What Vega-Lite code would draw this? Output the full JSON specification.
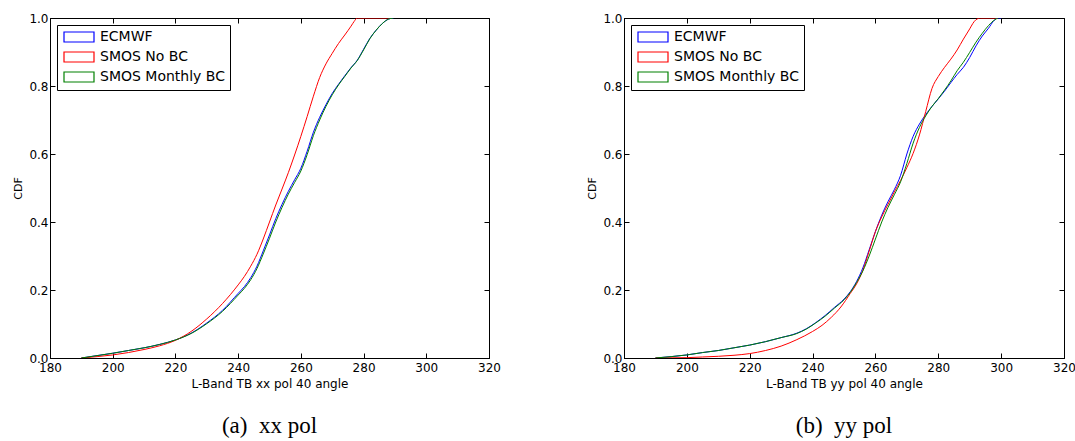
{
  "$schema": "https://vega.github.io/schema/vega-lite/v6.json",
  "padding": {"left": 12, "top": 11, "right": 0, "bottom": 0},
  "background": "white",
  "config": {
    "font": "DejaVu Sans",
    "view": {"stroke": "black", "strokeWidth": 1},
    "axis": {
      "domainColor": "black", "tickColor": "black", "labelColor": "black", "titleColor": "black",
      "labelFont": "DejaVu Sans", "titleFont": "DejaVu Sans",
      "labelFontSize": 12, "titleFontSize": 11, "titleFontWeight": "normal",
      "grid": false, "tickSize": -5, "tickWidth": 1, "domainWidth": 1
    },
    "axisX": {"titleFontSize": 12},
    "legend": {
      "labelFont": "DejaVu Sans", "labelFontSize": 14, "labelColor": "black"
    }
  },
  "datasets": {
    "xx": [
      {"src": "ECMWF", "T": 190, "cdf": 0},
      {"src": "ECMWF", "T": 195, "cdf": 0.007},
      {"src": "ECMWF", "T": 200, "cdf": 0.014},
      {"src": "ECMWF", "T": 205, "cdf": 0.022},
      {"src": "ECMWF", "T": 210, "cdf": 0.03},
      {"src": "ECMWF", "T": 215, "cdf": 0.04},
      {"src": "ECMWF", "T": 220, "cdf": 0.053},
      {"src": "ECMWF", "T": 225, "cdf": 0.073},
      {"src": "ECMWF", "T": 230, "cdf": 0.103},
      {"src": "ECMWF", "T": 235, "cdf": 0.14},
      {"src": "ECMWF", "T": 240, "cdf": 0.19},
      {"src": "ECMWF", "T": 242, "cdf": 0.21},
      {"src": "ECMWF", "T": 244, "cdf": 0.236},
      {"src": "ECMWF", "T": 246, "cdf": 0.27},
      {"src": "ECMWF", "T": 248, "cdf": 0.315},
      {"src": "ECMWF", "T": 250, "cdf": 0.362},
      {"src": "ECMWF", "T": 252, "cdf": 0.41},
      {"src": "ECMWF", "T": 254, "cdf": 0.452},
      {"src": "ECMWF", "T": 256, "cdf": 0.49},
      {"src": "ECMWF", "T": 258, "cdf": 0.524},
      {"src": "ECMWF", "T": 260, "cdf": 0.558},
      {"src": "ECMWF", "T": 262, "cdf": 0.608},
      {"src": "ECMWF", "T": 264, "cdf": 0.664},
      {"src": "ECMWF", "T": 266, "cdf": 0.708},
      {"src": "ECMWF", "T": 268, "cdf": 0.745},
      {"src": "ECMWF", "T": 270, "cdf": 0.778},
      {"src": "ECMWF", "T": 272, "cdf": 0.805},
      {"src": "ECMWF", "T": 274, "cdf": 0.83},
      {"src": "ECMWF", "T": 276, "cdf": 0.854},
      {"src": "ECMWF", "T": 278, "cdf": 0.876},
      {"src": "ECMWF", "T": 280, "cdf": 0.908},
      {"src": "ECMWF", "T": 282, "cdf": 0.94},
      {"src": "ECMWF", "T": 284, "cdf": 0.964},
      {"src": "ECMWF", "T": 286, "cdf": 0.984},
      {"src": "ECMWF", "T": 288, "cdf": 0.997},
      {"src": "ECMWF", "T": 289.5, "cdf": 1.0},
      {"src": "SMOS No BC", "T": 190, "cdf": 0},
      {"src": "SMOS No BC", "T": 195, "cdf": 0.004},
      {"src": "SMOS No BC", "T": 200, "cdf": 0.009},
      {"src": "SMOS No BC", "T": 205, "cdf": 0.016},
      {"src": "SMOS No BC", "T": 210, "cdf": 0.025},
      {"src": "SMOS No BC", "T": 215, "cdf": 0.036},
      {"src": "SMOS No BC", "T": 220, "cdf": 0.052},
      {"src": "SMOS No BC", "T": 225, "cdf": 0.078},
      {"src": "SMOS No BC", "T": 230, "cdf": 0.115},
      {"src": "SMOS No BC", "T": 235, "cdf": 0.16},
      {"src": "SMOS No BC", "T": 240, "cdf": 0.215},
      {"src": "SMOS No BC", "T": 242, "cdf": 0.24},
      {"src": "SMOS No BC", "T": 244, "cdf": 0.27},
      {"src": "SMOS No BC", "T": 246, "cdf": 0.305},
      {"src": "SMOS No BC", "T": 248, "cdf": 0.35},
      {"src": "SMOS No BC", "T": 250, "cdf": 0.4},
      {"src": "SMOS No BC", "T": 252, "cdf": 0.45},
      {"src": "SMOS No BC", "T": 254, "cdf": 0.497},
      {"src": "SMOS No BC", "T": 256, "cdf": 0.545},
      {"src": "SMOS No BC", "T": 258, "cdf": 0.597},
      {"src": "SMOS No BC", "T": 260, "cdf": 0.652},
      {"src": "SMOS No BC", "T": 262, "cdf": 0.71},
      {"src": "SMOS No BC", "T": 264, "cdf": 0.77},
      {"src": "SMOS No BC", "T": 266, "cdf": 0.825},
      {"src": "SMOS No BC", "T": 268, "cdf": 0.865},
      {"src": "SMOS No BC", "T": 270, "cdf": 0.896},
      {"src": "SMOS No BC", "T": 272, "cdf": 0.925},
      {"src": "SMOS No BC", "T": 274, "cdf": 0.95},
      {"src": "SMOS No BC", "T": 276, "cdf": 0.976},
      {"src": "SMOS No BC", "T": 277, "cdf": 0.99},
      {"src": "SMOS No BC", "T": 278, "cdf": 1.0},
      {"src": "SMOS No BC", "T": 289, "cdf": 1.0},
      {"src": "SMOS Monthly BC", "T": 190, "cdf": 0},
      {"src": "SMOS Monthly BC", "T": 195, "cdf": 0.007},
      {"src": "SMOS Monthly BC", "T": 200, "cdf": 0.014},
      {"src": "SMOS Monthly BC", "T": 205, "cdf": 0.022},
      {"src": "SMOS Monthly BC", "T": 210, "cdf": 0.03},
      {"src": "SMOS Monthly BC", "T": 215, "cdf": 0.04},
      {"src": "SMOS Monthly BC", "T": 220, "cdf": 0.053},
      {"src": "SMOS Monthly BC", "T": 225, "cdf": 0.072},
      {"src": "SMOS Monthly BC", "T": 230, "cdf": 0.101},
      {"src": "SMOS Monthly BC", "T": 235, "cdf": 0.137},
      {"src": "SMOS Monthly BC", "T": 240, "cdf": 0.185},
      {"src": "SMOS Monthly BC", "T": 242, "cdf": 0.205},
      {"src": "SMOS Monthly BC", "T": 244, "cdf": 0.23},
      {"src": "SMOS Monthly BC", "T": 246, "cdf": 0.263},
      {"src": "SMOS Monthly BC", "T": 248, "cdf": 0.306},
      {"src": "SMOS Monthly BC", "T": 250, "cdf": 0.352},
      {"src": "SMOS Monthly BC", "T": 252, "cdf": 0.4},
      {"src": "SMOS Monthly BC", "T": 254, "cdf": 0.443},
      {"src": "SMOS Monthly BC", "T": 256, "cdf": 0.482},
      {"src": "SMOS Monthly BC", "T": 258, "cdf": 0.516},
      {"src": "SMOS Monthly BC", "T": 260, "cdf": 0.55},
      {"src": "SMOS Monthly BC", "T": 262, "cdf": 0.598},
      {"src": "SMOS Monthly BC", "T": 264, "cdf": 0.654},
      {"src": "SMOS Monthly BC", "T": 266, "cdf": 0.7},
      {"src": "SMOS Monthly BC", "T": 268, "cdf": 0.74},
      {"src": "SMOS Monthly BC", "T": 270, "cdf": 0.774},
      {"src": "SMOS Monthly BC", "T": 272, "cdf": 0.803},
      {"src": "SMOS Monthly BC", "T": 274, "cdf": 0.828},
      {"src": "SMOS Monthly BC", "T": 276, "cdf": 0.853},
      {"src": "SMOS Monthly BC", "T": 278, "cdf": 0.875},
      {"src": "SMOS Monthly BC", "T": 280, "cdf": 0.906},
      {"src": "SMOS Monthly BC", "T": 282, "cdf": 0.939},
      {"src": "SMOS Monthly BC", "T": 284, "cdf": 0.964},
      {"src": "SMOS Monthly BC", "T": 286, "cdf": 0.984},
      {"src": "SMOS Monthly BC", "T": 288, "cdf": 0.997},
      {"src": "SMOS Monthly BC", "T": 289.5, "cdf": 1.0}
    ],
    "yy": [
      {"src": "ECMWF", "T": 190, "cdf": 0},
      {"src": "ECMWF", "T": 195, "cdf": 0.004},
      {"src": "ECMWF", "T": 200, "cdf": 0.009},
      {"src": "ECMWF", "T": 205, "cdf": 0.016},
      {"src": "ECMWF", "T": 210, "cdf": 0.022},
      {"src": "ECMWF", "T": 215, "cdf": 0.03},
      {"src": "ECMWF", "T": 220, "cdf": 0.038},
      {"src": "ECMWF", "T": 225, "cdf": 0.048},
      {"src": "ECMWF", "T": 230, "cdf": 0.06},
      {"src": "ECMWF", "T": 235, "cdf": 0.073},
      {"src": "ECMWF", "T": 238, "cdf": 0.086},
      {"src": "ECMWF", "T": 241, "cdf": 0.104},
      {"src": "ECMWF", "T": 244, "cdf": 0.125},
      {"src": "ECMWF", "T": 247, "cdf": 0.149},
      {"src": "ECMWF", "T": 250, "cdf": 0.173},
      {"src": "ECMWF", "T": 252, "cdf": 0.195},
      {"src": "ECMWF", "T": 254, "cdf": 0.225},
      {"src": "ECMWF", "T": 256, "cdf": 0.265},
      {"src": "ECMWF", "T": 258, "cdf": 0.318},
      {"src": "ECMWF", "T": 260, "cdf": 0.372},
      {"src": "ECMWF", "T": 262, "cdf": 0.42},
      {"src": "ECMWF", "T": 264, "cdf": 0.46},
      {"src": "ECMWF", "T": 266, "cdf": 0.495},
      {"src": "ECMWF", "T": 268, "cdf": 0.537},
      {"src": "ECMWF", "T": 270, "cdf": 0.6},
      {"src": "ECMWF", "T": 272, "cdf": 0.652},
      {"src": "ECMWF", "T": 274, "cdf": 0.688},
      {"src": "ECMWF", "T": 276, "cdf": 0.716},
      {"src": "ECMWF", "T": 278, "cdf": 0.74},
      {"src": "ECMWF", "T": 280, "cdf": 0.762},
      {"src": "ECMWF", "T": 282, "cdf": 0.785},
      {"src": "ECMWF", "T": 284, "cdf": 0.81},
      {"src": "ECMWF", "T": 286, "cdf": 0.834},
      {"src": "ECMWF", "T": 288, "cdf": 0.855},
      {"src": "ECMWF", "T": 290, "cdf": 0.884},
      {"src": "ECMWF", "T": 292, "cdf": 0.918},
      {"src": "ECMWF", "T": 294, "cdf": 0.947},
      {"src": "ECMWF", "T": 296, "cdf": 0.97},
      {"src": "ECMWF", "T": 297.5, "cdf": 0.99},
      {"src": "ECMWF", "T": 299, "cdf": 1.0},
      {"src": "ECMWF", "T": 300, "cdf": 1.0},
      {"src": "SMOS No BC", "T": 190, "cdf": 0},
      {"src": "SMOS No BC", "T": 200, "cdf": 0.001},
      {"src": "SMOS No BC", "T": 205, "cdf": 0.003},
      {"src": "SMOS No BC", "T": 210, "cdf": 0.005},
      {"src": "SMOS No BC", "T": 215, "cdf": 0.008},
      {"src": "SMOS No BC", "T": 220, "cdf": 0.013},
      {"src": "SMOS No BC", "T": 225, "cdf": 0.022},
      {"src": "SMOS No BC", "T": 230, "cdf": 0.035},
      {"src": "SMOS No BC", "T": 235, "cdf": 0.054},
      {"src": "SMOS No BC", "T": 240, "cdf": 0.078},
      {"src": "SMOS No BC", "T": 243, "cdf": 0.096},
      {"src": "SMOS No BC", "T": 246, "cdf": 0.12},
      {"src": "SMOS No BC", "T": 249, "cdf": 0.15},
      {"src": "SMOS No BC", "T": 252, "cdf": 0.19},
      {"src": "SMOS No BC", "T": 254, "cdf": 0.218},
      {"src": "SMOS No BC", "T": 256, "cdf": 0.258},
      {"src": "SMOS No BC", "T": 258, "cdf": 0.314},
      {"src": "SMOS No BC", "T": 260, "cdf": 0.372},
      {"src": "SMOS No BC", "T": 262, "cdf": 0.415},
      {"src": "SMOS No BC", "T": 264, "cdf": 0.452},
      {"src": "SMOS No BC", "T": 266, "cdf": 0.488},
      {"src": "SMOS No BC", "T": 268, "cdf": 0.522},
      {"src": "SMOS No BC", "T": 270, "cdf": 0.56},
      {"src": "SMOS No BC", "T": 272, "cdf": 0.602},
      {"src": "SMOS No BC", "T": 274, "cdf": 0.656},
      {"src": "SMOS No BC", "T": 276, "cdf": 0.725},
      {"src": "SMOS No BC", "T": 278, "cdf": 0.793},
      {"src": "SMOS No BC", "T": 280, "cdf": 0.828},
      {"src": "SMOS No BC", "T": 282, "cdf": 0.855},
      {"src": "SMOS No BC", "T": 284, "cdf": 0.879},
      {"src": "SMOS No BC", "T": 286, "cdf": 0.906},
      {"src": "SMOS No BC", "T": 288, "cdf": 0.938},
      {"src": "SMOS No BC", "T": 290, "cdf": 0.968},
      {"src": "SMOS No BC", "T": 291, "cdf": 0.984},
      {"src": "SMOS No BC", "T": 292, "cdf": 0.995},
      {"src": "SMOS No BC", "T": 293.5, "cdf": 1.0},
      {"src": "SMOS No BC", "T": 299, "cdf": 1.0},
      {"src": "SMOS Monthly BC", "T": 190, "cdf": 0},
      {"src": "SMOS Monthly BC", "T": 195, "cdf": 0.004},
      {"src": "SMOS Monthly BC", "T": 200, "cdf": 0.009},
      {"src": "SMOS Monthly BC", "T": 205, "cdf": 0.016},
      {"src": "SMOS Monthly BC", "T": 210, "cdf": 0.022},
      {"src": "SMOS Monthly BC", "T": 215, "cdf": 0.03},
      {"src": "SMOS Monthly BC", "T": 220, "cdf": 0.038},
      {"src": "SMOS Monthly BC", "T": 225, "cdf": 0.048},
      {"src": "SMOS Monthly BC", "T": 230, "cdf": 0.06},
      {"src": "SMOS Monthly BC", "T": 235, "cdf": 0.072},
      {"src": "SMOS Monthly BC", "T": 238, "cdf": 0.085},
      {"src": "SMOS Monthly BC", "T": 241, "cdf": 0.103},
      {"src": "SMOS Monthly BC", "T": 244, "cdf": 0.123},
      {"src": "SMOS Monthly BC", "T": 247, "cdf": 0.147},
      {"src": "SMOS Monthly BC", "T": 250, "cdf": 0.171},
      {"src": "SMOS Monthly BC", "T": 252, "cdf": 0.193},
      {"src": "SMOS Monthly BC", "T": 254, "cdf": 0.222},
      {"src": "SMOS Monthly BC", "T": 256, "cdf": 0.256},
      {"src": "SMOS Monthly BC", "T": 258, "cdf": 0.3},
      {"src": "SMOS Monthly BC", "T": 260, "cdf": 0.35},
      {"src": "SMOS Monthly BC", "T": 262, "cdf": 0.4},
      {"src": "SMOS Monthly BC", "T": 264, "cdf": 0.443},
      {"src": "SMOS Monthly BC", "T": 266, "cdf": 0.48},
      {"src": "SMOS Monthly BC", "T": 268, "cdf": 0.518},
      {"src": "SMOS Monthly BC", "T": 270, "cdf": 0.572},
      {"src": "SMOS Monthly BC", "T": 272, "cdf": 0.632},
      {"src": "SMOS Monthly BC", "T": 274, "cdf": 0.678},
      {"src": "SMOS Monthly BC", "T": 276, "cdf": 0.712},
      {"src": "SMOS Monthly BC", "T": 278, "cdf": 0.74},
      {"src": "SMOS Monthly BC", "T": 280, "cdf": 0.763},
      {"src": "SMOS Monthly BC", "T": 282, "cdf": 0.788},
      {"src": "SMOS Monthly BC", "T": 284, "cdf": 0.815},
      {"src": "SMOS Monthly BC", "T": 286, "cdf": 0.845},
      {"src": "SMOS Monthly BC", "T": 288, "cdf": 0.87},
      {"src": "SMOS Monthly BC", "T": 290, "cdf": 0.899},
      {"src": "SMOS Monthly BC", "T": 292, "cdf": 0.929},
      {"src": "SMOS Monthly BC", "T": 294, "cdf": 0.955},
      {"src": "SMOS Monthly BC", "T": 296, "cdf": 0.978},
      {"src": "SMOS Monthly BC", "T": 298, "cdf": 0.995},
      {"src": "SMOS Monthly BC", "T": 299, "cdf": 1.0}
    ]
  },
  "hconcat": [
    {
      "width": 439,
      "height": 340,
      "title": {"text": "(a)\u00a0\u00a0xx pol", "orient": "bottom", "anchor": "middle", "font": "Liberation Serif", "fontSize": 23, "fontWeight": "normal", "color": "black", "offset": 26},
      "data": {"name": "xx"},
      "resolve": {"axis": {"x": "independent", "y": "independent"}},
      "layer": [
        {
          "mark": {"type": "line", "interpolate": "monotone", "strokeWidth": 1, "clip": true},
          "encoding": {
            "x": {"field": "T", "type": "quantitative", "scale": {"domain": [180, 320], "nice": false, "zero": false},
                  "axis": {"values": [180, 200, 220, 240, 260, 280, 300, 320], "format": "d", "title": "L-Band TB xx pol 40 angle", "labelPadding": 9, "titlePadding": 5, "labelFlush": false}},
            "y": {"field": "cdf", "type": "quantitative", "scale": {"domain": [0, 1], "nice": false},
                  "axis": {"values": [0, 0.2, 0.4, 0.6, 0.8, 1.0], "format": ".1f", "title": "CDF", "labelPadding": 7, "titlePadding": 5, "labelFlush": false}},
            "stroke": {"field": "src", "type": "nominal",
                      "scale": {"domain": ["ECMWF", "SMOS No BC", "SMOS Monthly BC"], "range": ["#0000ff", "#ff0000", "#008000"]},
                      "legend": {"orient": "top-left", "offset": 7, "title": null, "strokeColor": "black", "fillColor": "white", "padding": 5, "labelFontSize": 14, "symbolType": "M-1,-1H5V1H-1Z", "symbolSize": 100, "symbolStrokeWidth": 1.2, "symbolFillColor": "white", "labelOffset": 24, "rowPadding": 4}},
            "order": {"field": "T", "type": "quantitative"}
          }
        },
        {
          "mark": {"type": "point", "opacity": 0},
          "encoding": {
            "x": {"field": "T", "type": "quantitative", "axis": {"orient": "top", "values": [180, 200, 220, 240, 260, 280, 300, 320], "labels": false, "title": null, "domain": false}},
            "y": {"field": "cdf", "type": "quantitative", "axis": {"orient": "right", "values": [0, 0.2, 0.4, 0.6, 0.8, 1.0], "labels": false, "title": null, "domain": false}}
          }
        }
      ]
    },
    {
      "width": 440,
      "height": 340,
      "title": {"text": "(b)\u00a0\u00a0yy pol", "orient": "bottom", "anchor": "middle", "font": "Liberation Serif", "fontSize": 23, "fontWeight": "normal", "color": "black", "offset": 26},
      "data": {"name": "yy"},
      "resolve": {"axis": {"x": "independent", "y": "independent"}},
      "layer": [
        {
          "mark": {"type": "line", "interpolate": "monotone", "strokeWidth": 1, "clip": true},
          "encoding": {
            "x": {"field": "T", "type": "quantitative", "scale": {"domain": [180, 320], "nice": false, "zero": false},
                  "axis": {"values": [180, 200, 220, 240, 260, 280, 300, 320], "format": "d", "title": "L-Band TB yy pol 40 angle", "labelPadding": 9, "titlePadding": 5, "labelFlush": false}},
            "y": {"field": "cdf", "type": "quantitative", "scale": {"domain": [0, 1], "nice": false},
                  "axis": {"values": [0, 0.2, 0.4, 0.6, 0.8, 1.0], "format": ".1f", "title": "CDF", "labelPadding": 7, "titlePadding": 5, "labelFlush": false}},
            "stroke": {"field": "src", "type": "nominal",
                      "scale": {"domain": ["ECMWF", "SMOS No BC", "SMOS Monthly BC"], "range": ["#0000ff", "#ff0000", "#008000"]},
                      "legend": {"orient": "top-left", "offset": 7, "title": null, "strokeColor": "black", "fillColor": "white", "padding": 5, "labelFontSize": 14, "symbolType": "M-1,-1H5V1H-1Z", "symbolSize": 100, "symbolStrokeWidth": 1.2, "symbolFillColor": "white", "labelOffset": 24, "rowPadding": 4}},
            "order": {"field": "T", "type": "quantitative"}
          }
        },
        {
          "mark": {"type": "point", "opacity": 0},
          "encoding": {
            "x": {"field": "T", "type": "quantitative", "axis": {"orient": "top", "values": [180, 200, 220, 240, 260, 280, 300, 320], "labels": false, "title": null, "domain": false}},
            "y": {"field": "cdf", "type": "quantitative", "axis": {"orient": "right", "values": [0, 0.2, 0.4, 0.6, 0.8, 1.0], "labels": false, "title": null, "domain": false}}
          }
        }
      ]
    }
  ],
  "spacing": 135,
  "bounds": "flush",
  "resolve": {"legend": {"stroke": "independent"}, "scale": {"stroke": "independent"}}
}
